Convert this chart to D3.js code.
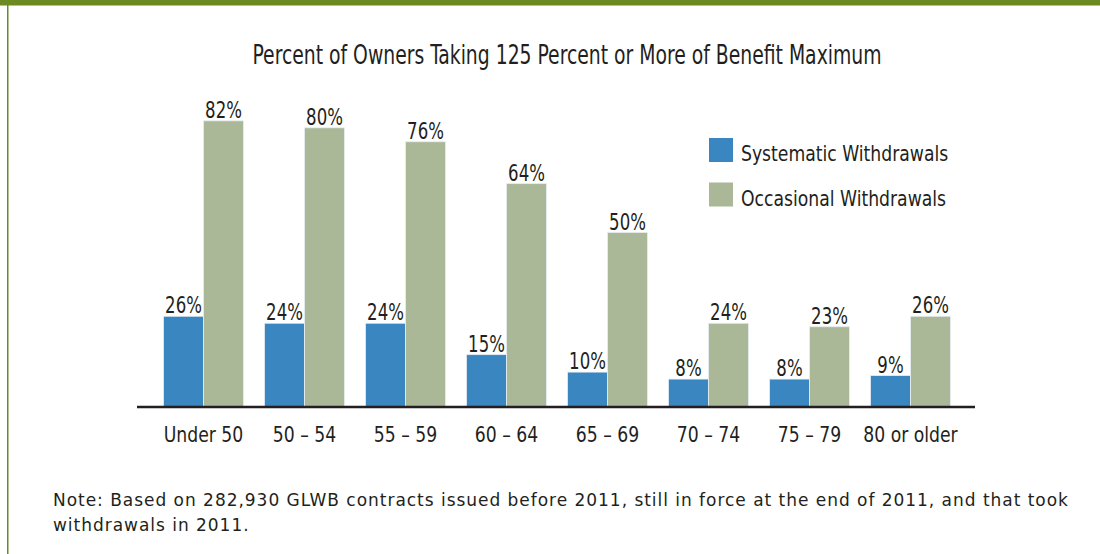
<!DOCTYPE html>
<html>
<head>
<meta charset="utf-8">
<script src="https://cdn.jsdelivr.net/npm/d3@7"></script>
<style>
  body { margin: 0; background: #fff; }
  svg text { fill: #231f20; }
  .cond { font-family: "DejaVu Sans Condensed", "Liberation Sans Narrow", sans-serif; }
  .note { font-family: "DejaVu Sans", "Noto Sans", sans-serif; }
</style>
</head>
<body>
<div id="chart"></div>
<script>
let categories = ['Under 50', '50 \u2013 54', '55 \u2013 59', '60 \u2013 64', '65 \u2013 69', '70 \u2013 74', '75 \u2013 79', '80 or older'];
let systematic = [26, 24, 24, 15, 10, 8, 8, 9];
let occasional = [82, 80, 76, 64, 50, 24, 23, 26];
let seriesNames = ['Systematic Withdrawals', 'Occasional Withdrawals'];
let seriesColors = ['#3a86c0', '#aab898'];
let title = 'Percent of Owners Taking 125 Percent or More of Benefit Maximum';
let noteLines = [
  'Note: Based on 282,930 GLWB contracts issued before 2011, still in force at the end of 2011, and that took',
  'withdrawals in 2011.'
];

let width = 1100;
let height = 554;

// squeeze text horizontally so the wide fallback font looks like the condensed original
let condense = (sel, factor) => {
  sel.each(function() {
    let len = this.getComputedTextLength();
    d3.select(this)
      .attr('textLength', len * factor)
      .attr('lengthAdjust', 'spacingAndGlyphs');
  });
};

let svg = d3.select('#chart').append('svg')
  .attr('width', width)
  .attr('height', height);

// frame: green top band and left rule
svg.append('rect').attr('x', 0).attr('y', 0).attr('width', width).attr('height', 5.5).attr('fill', '#6b8a22');
svg.append('rect').attr('x', 7).attr('y', 0).attr('width', 1.5).attr('height', height).attr('fill', '#6b8a22');

svg.append('text')
  .classed('cond', true)
  .attr('x', 567).attr('y', 64)
  .attr('text-anchor', 'middle')
  .attr('textLength', 629)
  .attr('lengthAdjust', 'spacingAndGlyphs')
  .style('font-size', '26px')
  .text(title);

// scales
let x = d3.scaleBand()
  .domain(categories)
  .range([153, 961])
  .paddingInner(0.208)
  .paddingOuter(0.104);

let inner = d3.scaleBand()
  .domain([0, 1])
  .range([0, x.bandwidth()]);

let y = d3.scaleLinear()
  .domain([0, 100])
  .range([407, 58]);

let rows = categories.map((c, i) => ({ cat: c, values: [systematic[i], occasional[i]] }));

let groups = svg.selectAll('g.group')
  .data(rows)
  .enter().append('g')
  .classed('group', true)
  .attr('transform', d => `translate(${x(d.cat)},0)`);

groups.selectAll('rect')
  .data(d => d.values.map((v, k) => ({ v, k })))
  .enter().append('rect')
  .attr('x', d => inner(d.k))
  .attr('y', d => y(d.v))
  .attr('width', inner.bandwidth())
  .attr('height', d => y(0) - y(d.v))
  .attr('fill', d => seriesColors[d.k])
  .attr('stroke', '#e6eef4')
  .attr('stroke-width', 0.8);

let valueLabels = groups.selectAll('text.val')
  .data(d => d.values.map((v, k) => ({ v, k })))
  .enter().append('text')
  .classed('val cond', true)
  .attr('x', d => inner(d.k) + inner.bandwidth() / 2)
  .attr('y', d => y(d.v) - 3)
  .attr('text-anchor', 'middle')
  .style('font-size', '23px')
  .text(d => d.v + '%');
condense(valueLabels, 0.8);

// x axis
let axis = svg.append('g')
  .attr('transform', `translate(0,${y(0)})`)
  .call(d3.axisBottom(x).tickSize(0).tickPadding(19.5));
axis.select('.domain').remove();
axis.append('line')
  .attr('x1', 137).attr('x2', 975)
  .attr('y1', 0).attr('y2', 0)
  .attr('stroke', '#231f20').attr('stroke-width', 2.5);
axis.selectAll('.tick text')
  .classed('cond', true)
  .style('font-size', '22px')
  .attr('fill', '#231f20');
condense(axis.selectAll('.tick text'), 0.87);

// legend
let legend = svg.append('g').attr('transform', 'translate(709,138)');
seriesNames.forEach((name, i) => {
  let row = legend.append('g').attr('transform', `translate(0,${i * 44.5})`);
  row.append('rect').attr('width', 24).attr('height', 24).attr('fill', seriesColors[i]);
  let t = row.append('text')
    .classed('cond', true)
    .attr('x', 32).attr('y', 23)
    .style('font-size', '22px')
    .text(name);
  condense(t, 0.87);
});

// note
svg.append('g').selectAll('text')
  .data(noteLines)
  .enter().append('text')
  .classed('note', true)
  .attr('x', 53)
  .attr('y', (d, i) => 506 + i * 25)
  .style('font-size', '17px')
  .style('letter-spacing', '0.97px')
  .text(d => d);
</script>
</body>
</html>
